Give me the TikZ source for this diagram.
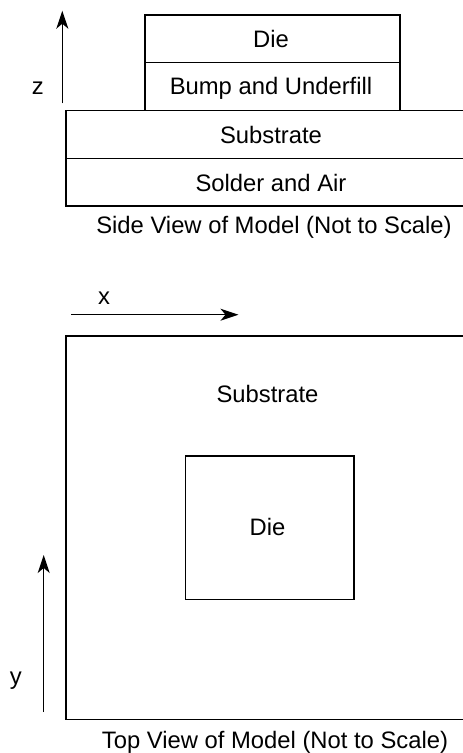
\documentclass[tikz,border=0pt]{standalone}
\usepackage{fontspec}
\setmainfont{Liberation Sans}
\usetikzlibrary{arrows.meta}
\begin{document}
\begin{tikzpicture}[x=1pt,y=-1pt,
  line width=1.5pt,
  lbl/.style={inner sep=0pt,anchor=base,font=\fontsize{23.8}{28}\selectfont},
  axis/.style={-{Stealth[length=18pt,width=12pt,inset=5pt]},line width=1.5pt}]
\useasboundingbox (0,0) rectangle (463,753);
% ---------- side view ----------
\draw (145,110) -- (145,15) -- (400,15) -- (400,110);
\draw (145,62.3) -- (400,62.3);
\draw (470,110.5) -- (66,110.5) -- (66,206) -- (470,206);
\draw (66,158.5) -- (470,158.5);
\node[lbl] (sdie) at (271,47) {Die};
\node[lbl] (sbump) at (271,94.5) {Bump and Underfill};
\node[lbl] (ssub) at (271,143.5) {Substrate};
\node[lbl] (ssol) at (271,191.5) {Solder and Air};
\node[lbl] (scap) at (274,233) {Side View of Model (Not to Scale)};
\coordinate (z0) at (62.3,103.3);
\coordinate (z1) at (62.3,10.7);
\draw[axis] (z0) -- (z1);
\node[lbl] (zl) at (37.7,94.5) {z};
% ---------- top view ----------
\coordinate (x0) at (71,314.7);
\coordinate (x1) at (238.5,314.7);
\draw[axis] (x0) -- (x1);
\node[lbl] (xl) at (104,304) {x};
\draw (470,336) -- (66,336) -- (66,719.3) -- (470,719.3);
\draw (185.7,456) rectangle (354,599.3);
\node[lbl] (tsub) at (267.5,402.5) {Substrate};
\node[lbl] (tdie) at (267.5,535.5) {Die};
\coordinate (y0) at (43.7,712);
\coordinate (y1) at (43.7,555);
\draw[axis] (y0) -- (y1);
\node[lbl] (yl) at (15.7,684.5) {y};
\node[lbl] (tcap) at (275,748) {Top View of Model (Not to Scale)};
\end{tikzpicture}
\end{document}
